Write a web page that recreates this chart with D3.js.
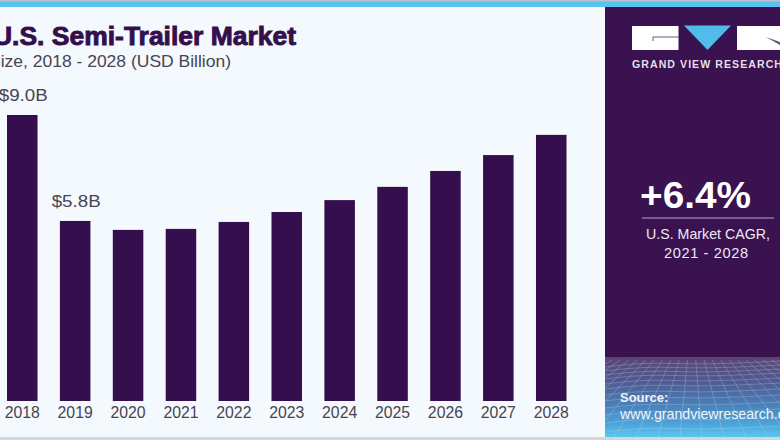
<!DOCTYPE html>
<html><head><meta charset="utf-8">
<script src="https://cdn.jsdelivr.net/npm/d3@7"></script>
<style>html,body{margin:0;padding:0;background:#fff}svg{display:block}text{font-family:"Liberation Sans",Arial,sans-serif}</style>
</head><body><svg id="c" width="780" height="440"></svg>
<script>
const years=["2018","2019","2020","2021","2022","2023","2024","2025","2026","2027","2028"];
const values=[9.0,5.8,5.53,5.56,5.77,6.07,6.43,6.83,7.31,7.79,8.4];
const valueLabels=["$9.0B","$5.8B"];
const W=780,H=440,purple="#350f4d",panel="#39124f",ink="#4a4350";
const svg=d3.select("#c");
const defs=svg.append("defs");
const g=defs.append("linearGradient").attr("id","fade").attr("x1",0).attr("y1",0).attr("x2",0).attr("y2",1);
[[0,"#5a4474"],[0.3,"#4f5a90"],[0.6,"#4a80b8"],[0.85,"#4da6dc"],[1,"#5cc6f0"]].forEach(d=>g.append("stop").attr("offset",d[0]).attr("stop-color",d[1]));
defs.append("clipPath").attr("id","pc").append("rect").attr("x",605).attr("y",357).attr("width",175).attr("height",80);
svg.append("rect").attr("width",W).attr("height",H).attr("fill","#f4f9fd");
svg.append("rect").attr("width",W).attr("height",2).attr("fill","#b9c3c9");
svg.append("rect").attr("y",1.5).attr("width",W).attr("height",5.5).attr("fill","#58c2f0");
svg.append("rect").attr("y",437).attr("width",W).attr("height",3).attr("fill","#d6d6d8");

// chart
const x=d3.scaleBand().domain(years).range([7,566.5]).paddingInner(0.423).paddingOuter(0);
const y=d3.scaleLinear().domain([0,9]).range([413,115]);
const base=401;
svg.selectAll("rect.bar").data(years).join("rect").attr("class","bar")
 .attr("x",d=>x(d)).attr("width",x.bandwidth())
 .attr("y",(d,i)=>y(values[i])).attr("height",(d,i)=>base-y(values[i])).attr("fill",purple);
const axis=d3.axisBottom(x).tickSize(0).tickPadding(0);
const ax=svg.append("g").attr("transform",`translate(0,${base})`).call(axis);
ax.select(".domain").remove();
ax.selectAll("text").attr("y",17).attr("dy",0).attr("font-size",15.8).attr("fill",ink).style("font-family",'"Liberation Sans",Arial,sans-serif');
valueLabels.forEach((t,i)=>svg.append("text").attr("x",x(years[i])+x.bandwidth()/2+1).attr("y",y(values[i])-14).attr("text-anchor","middle").attr("font-size",17).attr("fill",ink).attr("textLength",49).attr("lengthAdjust","spacingAndGlyphs").text(t));

// titles
svg.append("text").attr("x",-7).attr("y",45).attr("font-size",25).attr("font-weight",700).attr("fill",purple).attr("stroke",purple).attr("stroke-width",.9).attr("textLength",303).attr("lengthAdjust","spacingAndGlyphs").text("U.S. Semi-Trailer Market");
svg.append("text").attr("x",-11).attr("y",67).attr("font-size",16.5).attr("fill",ink).attr("textLength",242).attr("lengthAdjust","spacingAndGlyphs").text("Size, 2018 - 2028 (USD Billion)");

// side panel
svg.append("rect").attr("x",605).attr("y",7).attr("width",175).attr("height",430).attr("fill",panel);
svg.append("rect").attr("x",605).attr("y",357).attr("width",175).attr("height",80).attr("fill","url(#fade)");
// mesh decoration
const mesh=svg.append("g").attr("clip-path","url(#pc)").attr("stroke","#c8e0f4").attr("stroke-width",.6).attr("fill","none").attr("opacity",.45);
const rowY=[363,367,371,375,380,385,391,397,404,411,419,428];
rowY.forEach(ry=>mesh.append("path").attr("d",d3.line().curve(d3.curveBasis)([[605,ry+4],[650,ry-1],[700,ry+2],[780,ry-2]])));
d3.range(-200,1100,22).forEach(gx=>{const cx=692;mesh.append("path").attr("d",`M${cx+(gx-cx)*.38},360L${gx},437`);});

// logo
const logo=svg.append("g");
logo.append("rect").attr("x",632).attr("y",26).attr("width",46.5).attr("height",24).attr("fill","#fff");
logo.append("path").attr("d","M653,41V37H679").attr("fill","none").attr("stroke","#6a5480").attr("stroke-width",1);
logo.append("path").attr("d","M684,25.5H731L707.5,50Z").attr("fill","#4fbcec");
logo.append("rect").attr("x",737).attr("y",26).attr("width",43).attr("height",24).attr("fill","#fff");
logo.append("path").attr("d","M766,37L780,42V45Z").attr("fill","#6a5480");
svg.append("text").attr("x",632).attr("y",68).attr("font-size",10.6).attr("font-weight",700).attr("fill","#e4dfe9").attr("textLength",150).text("GRAND VIEW RESEARCH");

svg.append("text").attr("x",640).attr("y",208).attr("font-size",37.5).attr("font-weight",700).attr("fill","#fff").attr("textLength",111).attr("lengthAdjust","spacingAndGlyphs").text("+6.4%");
svg.append("line").attr("x1",642).attr("x2",774).attr("y1",218).attr("y2",218).attr("stroke","#b8a9c6").attr("stroke-width",1);
svg.append("text").attr("x",708).attr("y",239).attr("text-anchor","middle").attr("font-size",14.2).attr("fill","#eee9f2").attr("textLength",124).text("U.S. Market CAGR,");
svg.append("text").attr("x",706).attr("y",258).attr("text-anchor","middle").attr("font-size",14.6).attr("fill","#eee9f2").attr("textLength",84).text("2021 - 2028");
svg.append("text").attr("x",620).attr("y",402).attr("font-size",13).attr("font-weight",700).attr("fill","#f2f4f8").text("Source:");
svg.append("text").attr("x",620).attr("y",419).attr("font-size",14.2).attr("fill","#f2f4f8").text("www.grandviewresearch.com");
</script></body></html>
